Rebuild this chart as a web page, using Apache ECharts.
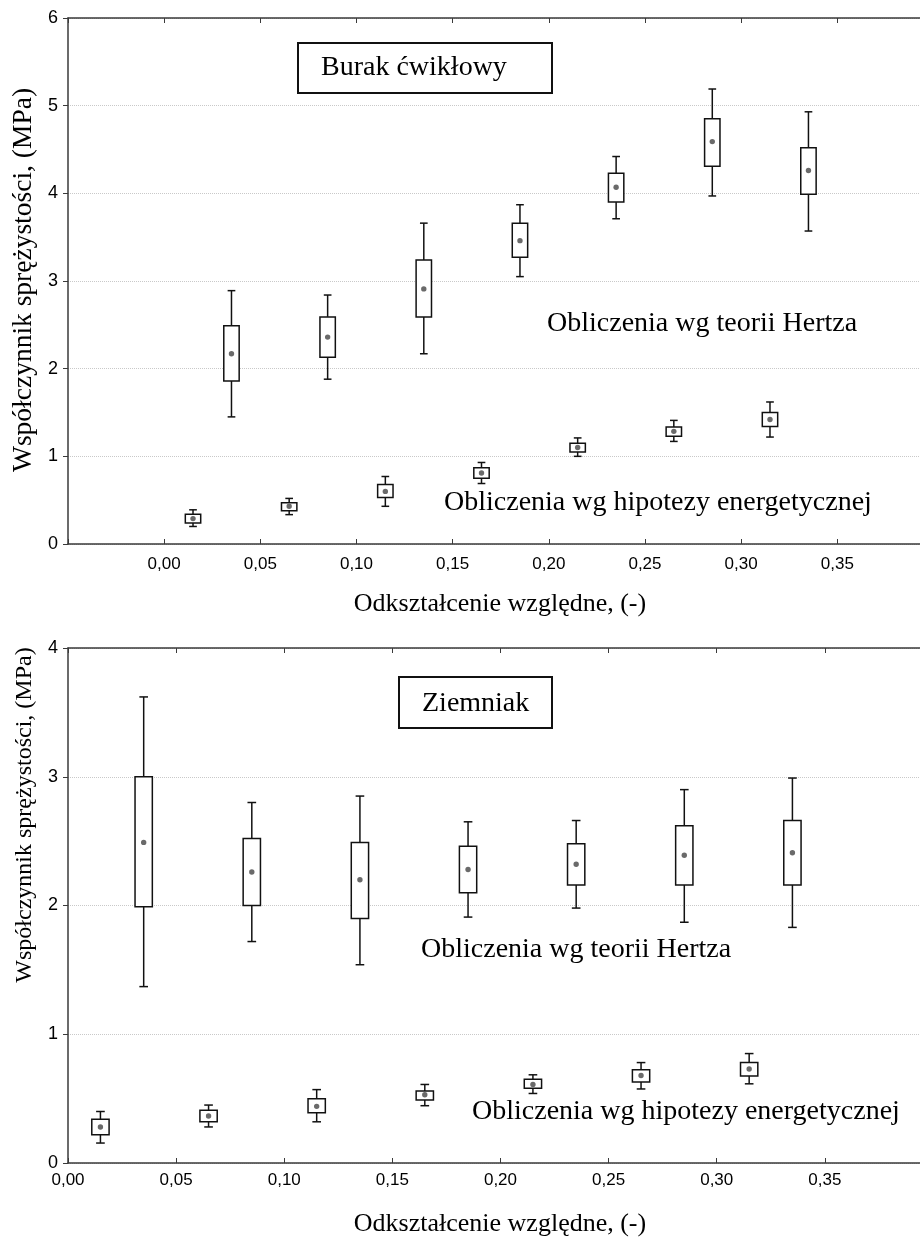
<!DOCTYPE html>
<html>
<head>
<meta charset="utf-8">
<script src="https://cdn.jsdelivr.net/npm/echarts@6/dist/echarts.min.js"></script>
<style>
  html, body { margin: 0; padding: 0; background: #fff; }
  #chart { width: 920px; height: 1238px; }
</style>
</head>
<body>
<div id="chart"></div>
<script>
// ---- Data ----
// x positions (strain) of the two groups of boxes
const xHertz  = [0.035, 0.085, 0.135, 0.185, 0.235, 0.285, 0.335];
const xEnergy = [0.015, 0.065, 0.115, 0.165, 0.215, 0.265, 0.315];

// rows: [whisker low, box low, mean, box high, whisker high]  (MPa)
const burakHertz = [
  [1.45, 1.86, 2.17, 2.49, 2.89],
  [1.88, 2.13, 2.36, 2.59, 2.84],
  [2.17, 2.59, 2.91, 3.24, 3.66],
  [3.05, 3.27, 3.46, 3.66, 3.87],
  [3.71, 3.90, 4.07, 4.23, 4.42],
  [3.97, 4.31, 4.59, 4.85, 5.19],
  [3.57, 3.99, 4.26, 4.52, 4.93]
];
const burakEnergy = [
  [0.20, 0.24, 0.29, 0.34, 0.39],
  [0.335, 0.38, 0.43, 0.47, 0.52],
  [0.43, 0.53, 0.60, 0.68, 0.77],
  [0.69, 0.75, 0.81, 0.87, 0.93],
  [1.00, 1.05, 1.10, 1.15, 1.21],
  [1.17, 1.23, 1.285, 1.335, 1.41],
  [1.22, 1.34, 1.42, 1.50, 1.62]
];
const ziemniakHertz = [
  [1.37, 1.99, 2.49, 3.00, 3.62],
  [1.72, 2.00, 2.26, 2.52, 2.80],
  [1.54, 1.90, 2.20, 2.49, 2.85],
  [1.91, 2.10, 2.28, 2.46, 2.65],
  [1.98, 2.16, 2.32, 2.48, 2.66],
  [1.87, 2.16, 2.39, 2.62, 2.90],
  [1.83, 2.16, 2.41, 2.66, 2.99]
];
const ziemniakEnergy = [
  [0.155, 0.22, 0.28, 0.34, 0.40],
  [0.28, 0.32, 0.365, 0.41, 0.45],
  [0.32, 0.39, 0.44, 0.50, 0.57],
  [0.445, 0.49, 0.53, 0.56, 0.61],
  [0.54, 0.58, 0.61, 0.65, 0.685],
  [0.575, 0.63, 0.68, 0.725, 0.78],
  [0.615, 0.675, 0.73, 0.78, 0.85]
];

// texts
const yTitle = 'Współczynnik sprężystości, (MPa)';
const xTitle = 'Odkształcenie względne, (-)';
const panelTitles = ['Burak ćwikłowy', 'Ziemniak'];
const noteHertz = 'Obliczenia wg teorii Hertza';
const noteEnergy = 'Obliczenia wg hipotezy energetycznej';

// ---- Helpers ----
const SERIF = '"Liberation Serif", "Times New Roman", serif';
const SANS = '"Liberation Sans", Arial, sans-serif';
const AXIS_COLOR = '#3a3a3a';
const BOX_HALF = 0.004;   // box half-width in strain units
const CAP_HALF = 0.002;   // whisker cap half-width

function rows(xs, stats) {
  return xs.map((x, i) => [x].concat(stats[i]));
}

function renderBox(params, api) {
  const x = api.value(0);
  const wl = api.value(1), bl = api.value(2), m = api.value(3), bh = api.value(4), wh = api.value(5);
  const boxTL = api.coord([x - BOX_HALF, bh]);
  const boxBR = api.coord([x + BOX_HALF, bl]);
  const cTop = api.coord([x, wh]);
  const cBot = api.coord([x, wl]);
  const capL = api.coord([x - CAP_HALF, wh])[0];
  const capR = api.coord([x + CAP_HALF, wh])[0];
  const mean = api.coord([x, m]);
  const line = { stroke: '#111', lineWidth: 1.5, fill: null };
  return {
    type: 'group',
    children: [
      { type: 'line', shape: { x1: cTop[0], y1: cTop[1], x2: cTop[0], y2: boxTL[1] }, style: line },
      { type: 'line', shape: { x1: cBot[0], y1: boxBR[1], x2: cBot[0], y2: cBot[1] }, style: line },
      { type: 'line', shape: { x1: capL, y1: cTop[1], x2: capR, y2: cTop[1] }, style: line },
      { type: 'line', shape: { x1: capL, y1: cBot[1], x2: capR, y2: cBot[1] }, style: line },
      { type: 'rect', shape: { x: boxTL[0], y: boxTL[1], width: boxBR[0] - boxTL[0], height: boxBR[1] - boxTL[1] },
        style: { fill: '#fff', stroke: '#111', lineWidth: 1.5 } },
      { type: 'circle', shape: { cx: mean[0], cy: mean[1], r: 2.7 }, style: { fill: '#6a6a6a' } }
    ]
  };
}

function fmtX(v) {
  if (v < -1e-9 || v > 0.36) return '';
  return v.toFixed(2).replace('.', ',');
}

function xAxisPair(grid, min, max, labelMargin) {
  return [
    { gridIndex: grid, type: 'value', position: 'bottom', min: min, max: max, interval: 0.05,
      axisLine: { onZero: false, lineStyle: { color: AXIS_COLOR, width: 1.5 } },
      axisTick: { inside: true, length: 5, lineStyle: { color: AXIS_COLOR, width: 1 } },
      axisLabel: { formatter: fmtX, margin: labelMargin, color: '#000', fontFamily: SANS, fontSize: 17,
                   showMinLabel: true, showMaxLabel: false },
      splitLine: { show: false } },
    { gridIndex: grid, type: 'value', position: 'top', min: min, max: max, interval: 0.05,
      axisLine: { onZero: false, lineStyle: { color: AXIS_COLOR, width: 1.5 } },
      axisTick: { inside: true, length: 5, lineStyle: { color: AXIS_COLOR, width: 1 } },
      axisLabel: { show: false },
      splitLine: { show: false } }
  ];
}

function yAxisDef(grid, max) {
  return { gridIndex: grid, type: 'value', min: 0, max: max, interval: 1,
    axisLine: { show: true, onZero: false, lineStyle: { color: AXIS_COLOR, width: 1.5 } },
    axisTick: { show: true, inside: false, length: 5, lineStyle: { color: AXIS_COLOR, width: 1 } },
    axisLabel: { margin: 10, color: '#000', fontFamily: SANS, fontSize: 18 },
    splitLine: { show: true, lineStyle: { color: '#c9c9c9', type: 'dotted', width: 1 } } };
}

function txt(x, y, text, size, align, rotation) {
  return { type: 'text', x: x, y: y, rotation: rotation || 0, z: 100,
    style: { text: text, fontFamily: SERIF, fontSize: size, fill: '#000',
             textAlign: align || 'left', textVerticalAlign: 'middle' } };
}

const chart = echarts.init(document.getElementById('chart'), null, { renderer: 'canvas' });

chart.setOption({
  backgroundColor: '#fff',
  animation: false,
  grid: [
    { left: 68, top: 18, width: 852, height: 526 },
    { left: 68, top: 648, width: 852, height: 515 }
  ],
  xAxis: xAxisPair(0, -0.05, 0.393, 12).concat(xAxisPair(1, 0, 0.394, 9)),
  yAxis: [yAxisDef(0, 6), yAxisDef(1, 4)],
  series: [
    { type: 'custom', xAxisIndex: 0, yAxisIndex: 0, renderItem: renderBox, data: rows(xHertz, burakHertz), z: 10 },
    { type: 'custom', xAxisIndex: 0, yAxisIndex: 0, renderItem: renderBox, data: rows(xEnergy, burakEnergy), z: 10 },
    { type: 'custom', xAxisIndex: 2, yAxisIndex: 1, renderItem: renderBox, data: rows(xHertz, ziemniakHertz), z: 10 },
    { type: 'custom', xAxisIndex: 2, yAxisIndex: 1, renderItem: renderBox, data: rows(xEnergy, ziemniakEnergy), z: 10 }
  ],
  graphic: [
    // panel title boxes
    { type: 'rect', shape: { x: 298, y: 43, width: 254, height: 50 }, z: 90,
      style: { fill: '#fff', stroke: '#111', lineWidth: 2 } },
    txt(321, 68, panelTitles[0], 28),
    { type: 'rect', shape: { x: 399, y: 677, width: 153, height: 51 }, z: 90,
      style: { fill: '#fff', stroke: '#111', lineWidth: 2 } },
    txt(422, 704, panelTitles[1], 28),
    // annotations
    txt(547, 324, noteHertz, 28),
    txt(444, 503, noteEnergy, 28),
    txt(421, 950, noteHertz, 28),
    txt(472, 1112, noteEnergy, 28),
    // axis titles
    txt(500, 604, xTitle, 26, 'center'),
    txt(500, 1224, xTitle, 26, 'center'),
    txt(24, 280, yTitle, 27.5, 'center', Math.PI / 2),
    txt(25, 815, yTitle, 24, 'center', Math.PI / 2)
  ]
});
</script>
</body>
</html>
